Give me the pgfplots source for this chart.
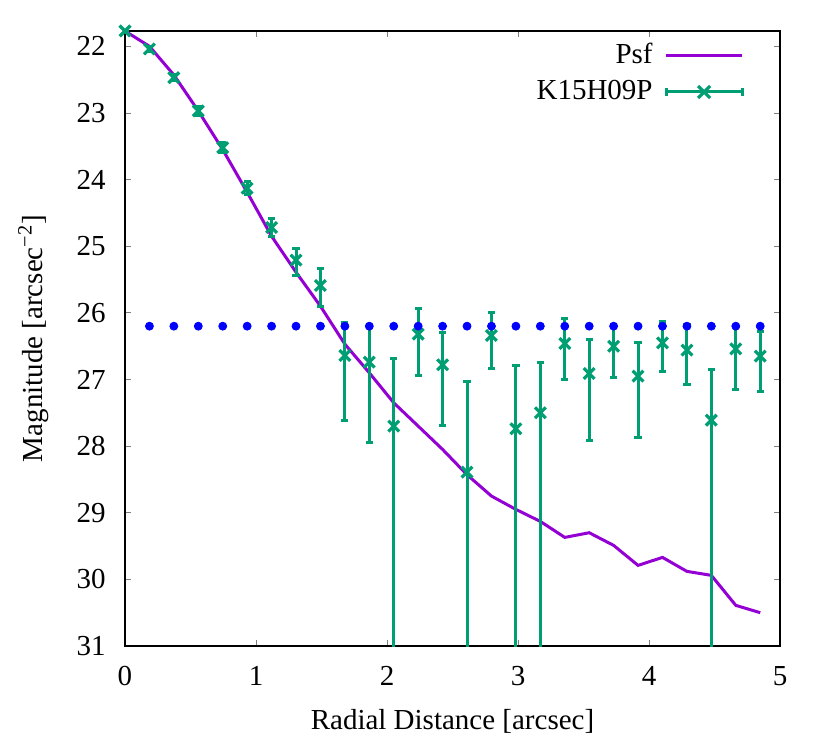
\documentclass[border=0pt]{standalone}
\usepackage{pgfplots}
\pgfplotsset{compat=1.18}
\usepackage{fontspec}
\setmainfont{Liberation Serif}
\definecolor{gpviolet}{RGB}{148,0,211}
\definecolor{gpgreen}{RGB}{0,158,115}
\definecolor{gpblue}{RGB}{0,0,255}
\begin{document}
\fontsize{14.5}{17}\selectfont
\begin{tikzpicture}
\useasboundingbox (-62.5pt,-47pt) rectangle (352.5pt,323pt);
\begin{axis}[
  name=ax,
  at={(0,0)}, anchor=south west,
  scale only axis,
  width=327.5pt, height=307.5pt,
  xmin=0, xmax=5,
  ymin=21.77, ymax=31,
  y dir=reverse,
  xtick={0,1,2,3,4,5},
  ytick={22,23,24,25,26,27,28,29,30,31},
  tick align=inside,
  major tick length=3pt,
  tick style={gray, line width=0.4pt},
  axis line style={black, line width=0.6pt},
  /pgf/number format/assume math mode=true,
  tick label style={font=\fontsize{14.5}{17}\selectfont\rmfamily, inner sep=0pt},
  xticklabel style={anchor=base, yshift=-19.5pt},
  yticklabel style={anchor=east, xshift=-9.5pt},
  label style={font=\fontsize{14.5}{17}\selectfont},
  xlabel={Radial Distance [arcsec]},
  ylabel={Magnitude [arcsec\textsuperscript{\char"2212 2}]},
  xlabel style={at={(axis description cs:0.5,-0.135)}, anchor=base, inner sep=0pt},
  ylabel style={at={(axis description cs:-0.1267,0.5)}, anchor=base, inner sep=0pt},
  legend cell align=right,
  legend plot pos=right,
  legend style={draw=none, fill=none, at={(1,1)}, anchor=north east,
    xshift=-18pt, yshift=-4pt, inner sep=0pt, row sep=2pt, column sep=4pt,
    font=\fontsize{14.5}{17}\selectfont},
]
\addplot[gpviolet, line width=1.5pt, no marks,
  legend image code/.code={\draw[gpviolet, line width=1.5pt] (0pt,0pt) -- (38pt,0pt);}]
  coordinates {
(0,21.77) (0.1865,22.00) (0.373,22.43) (0.5595,22.97) (0.746,23.55)
(0.9325,24.19) (1.119,24.85) (1.3055,25.39) (1.492,25.90) (1.6785,26.47)
(1.865,26.90) (2.0515,27.35) (2.238,27.70) (2.4245,28.05) (2.611,28.43)
(2.7975,28.75) (2.984,28.95) (3.1705,29.13) (3.357,29.37) (3.5435,29.30)
(3.73,29.49) (3.9165,29.79) (4.103,29.67) (4.2895,29.88) (4.476,29.94)
(4.6625,30.39) (4.849,30.50)
};
\addlegendentry{Psf}
\addplot[gpgreen, only marks, mark=x, mark size=3.8pt, line width=1.6pt,
  legend image code/.code={
    \draw[gpgreen, line width=1.5pt] (0pt,0pt) -- (38pt,0pt);
    \draw[gpgreen, line width=1.5pt] (0pt,-1.8pt) -- (0pt,1.8pt);
    \draw[gpgreen, line width=1.5pt] (38pt,-1.8pt) -- (38pt,1.8pt);
    \draw[gpgreen, line width=1.6pt] (16pt,-3pt) -- (22pt,3pt) (16pt,3pt) -- (22pt,-3pt);
  },
  error bars/.cd, y dir=both, y explicit,
  error mark=-, error mark options={gpgreen, line width=1.5pt, mark size=1.8pt, rotate=90},
  error bar style={gpgreen, line width=1.5pt},
  ]
  table[x=x, y=y, y error plus=ep, y error minus=em] {
x y ep em
0 21.77 0.02 0.02
0.1865 22.04 0.04 0.04
0.373 22.47 0.05 0.05
0.5595 22.97 0.07 0.07
0.746 23.52 0.08 0.08
0.9325 24.13 0.10 0.10
1.119 24.72 0.14 0.13
1.3055 25.21 0.23 0.18
1.492 25.59 0.31 0.25
1.6785 26.64 0.98 0.50
1.865 26.74 1.21 0.54
2.0515 27.70 7.00 1.02
2.238 26.32 0.62 0.39
2.4245 26.78 0.91 0.48
2.611 28.39 7.00 1.36
2.7975 26.34 0.49 0.34
2.984 27.74 7.00 0.95
3.1705 27.50 7.00 0.75
3.357 26.46 0.54 0.38
3.5435 26.91 1.00 0.51
3.73 26.50 0.47 0.32
3.9165 26.95 0.92 0.50
4.103 26.45 0.43 0.32
4.2895 26.56 0.52 0.39
4.476 27.61 7.00 0.76
4.6625 26.54 0.61 0.34
4.849 26.65 0.53 0.37
};
\addlegendentry{K15H09P}
\addplot[gpblue, only marks, mark=*, mark size=2pt, forget plot]
  coordinates {
(0.1865,26.2) (0.373,26.2) (0.5595,26.2) (0.746,26.2) (0.9325,26.2)
(1.119,26.2) (1.3055,26.2) (1.492,26.2) (1.6785,26.2) (1.865,26.2)
(2.0515,26.2) (2.238,26.2) (2.4245,26.2) (2.611,26.2) (2.7975,26.2)
(2.984,26.2) (3.1705,26.2) (3.357,26.2) (3.5435,26.2) (3.73,26.2)
(3.9165,26.2) (4.103,26.2) (4.2895,26.2) (4.476,26.2) (4.6625,26.2)
(4.849,26.2)
};
\end{axis}
\end{tikzpicture}
\end{document}
